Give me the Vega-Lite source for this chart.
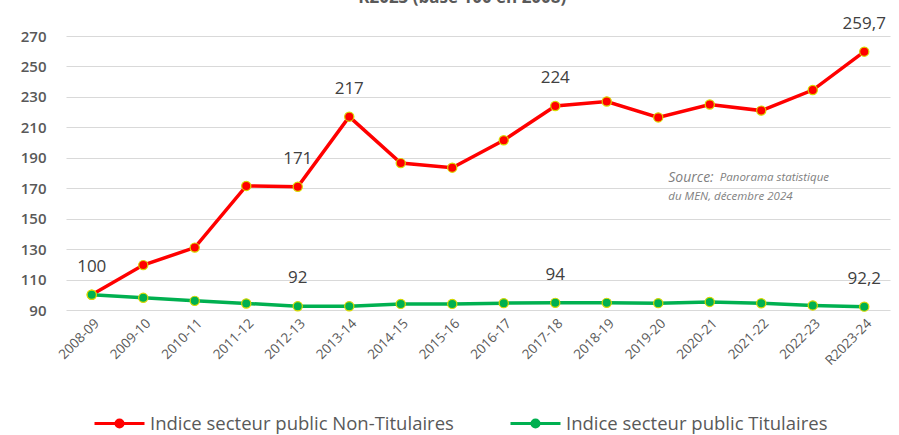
{
  "$schema": "https://vega.github.io/schema/vega-lite/v6.json",
  "width": 824,
  "height": 274,
  "autosize": "none",
  "padding": {"left": 66, "top": 36, "right": 9, "bottom": 125},
  "background": "white",
  "config": {"view": {"stroke": null}, "font": "Open Sans"},
  "datasets": {
    "series": [
      {"annee": "2008-09", "serie": "Indice secteur public Non-Titulaires", "indice": 100, "label": "100"},
      {"annee": "2009-10", "serie": "Indice secteur public Non-Titulaires", "indice": 119.5},
      {"annee": "2010-11", "serie": "Indice secteur public Non-Titulaires", "indice": 131},
      {"annee": "2011-12", "serie": "Indice secteur public Non-Titulaires", "indice": 171.5},
      {"annee": "2012-13", "serie": "Indice secteur public Non-Titulaires", "indice": 171, "label": "171"},
      {"annee": "2013-14", "serie": "Indice secteur public Non-Titulaires", "indice": 217, "label": "217"},
      {"annee": "2014-15", "serie": "Indice secteur public Non-Titulaires", "indice": 186.5},
      {"annee": "2015-16", "serie": "Indice secteur public Non-Titulaires", "indice": 183.5},
      {"annee": "2016-17", "serie": "Indice secteur public Non-Titulaires", "indice": 201.5},
      {"annee": "2017-18", "serie": "Indice secteur public Non-Titulaires", "indice": 224, "label": "224"},
      {"annee": "2018-19", "serie": "Indice secteur public Non-Titulaires", "indice": 227},
      {"annee": "2019-20", "serie": "Indice secteur public Non-Titulaires", "indice": 216.5},
      {"annee": "2020-21", "serie": "Indice secteur public Non-Titulaires", "indice": 225},
      {"annee": "2021-22", "serie": "Indice secteur public Non-Titulaires", "indice": 221},
      {"annee": "2022-23", "serie": "Indice secteur public Non-Titulaires", "indice": 234.5},
      {"annee": "R2023-24", "serie": "Indice secteur public Non-Titulaires", "indice": 259.7, "label": "259,7"},
      {"annee": "2008-09", "serie": "Indice secteur public Titulaires", "indice": 100},
      {"annee": "2009-10", "serie": "Indice secteur public Titulaires", "indice": 98},
      {"annee": "2010-11", "serie": "Indice secteur public Titulaires", "indice": 96},
      {"annee": "2011-12", "serie": "Indice secteur public Titulaires", "indice": 94.3},
      {"annee": "2012-13", "serie": "Indice secteur public Titulaires", "indice": 92.5, "label": "92"},
      {"annee": "2013-14", "serie": "Indice secteur public Titulaires", "indice": 92.5},
      {"annee": "2014-15", "serie": "Indice secteur public Titulaires", "indice": 94},
      {"annee": "2015-16", "serie": "Indice secteur public Titulaires", "indice": 94},
      {"annee": "2016-17", "serie": "Indice secteur public Titulaires", "indice": 94.5},
      {"annee": "2017-18", "serie": "Indice secteur public Titulaires", "indice": 94.7, "label": "94"},
      {"annee": "2018-19", "serie": "Indice secteur public Titulaires", "indice": 94.7},
      {"annee": "2019-20", "serie": "Indice secteur public Titulaires", "indice": 94.5},
      {"annee": "2020-21", "serie": "Indice secteur public Titulaires", "indice": 95.3},
      {"annee": "2021-22", "serie": "Indice secteur public Titulaires", "indice": 94.4},
      {"annee": "2022-23", "serie": "Indice secteur public Titulaires", "indice": 93},
      {"annee": "R2023-24", "serie": "Indice secteur public Titulaires", "indice": 92.2, "label": "92,2"}
    ],
    "notes": [
      {"annee": "2019-20", "indice": 177, "texte": "Source:", "type": "a"},
      {"annee": "2020-21", "indice": 177, "texte": "Panorama statistique", "type": "b"},
      {"annee": "2019-20", "indice": 164, "texte": "du MEN, décembre 2024", "type": "c"},
      {"annee": "2015-16", "indice": 295, "texte": "R2023 (base 100 en 2008)", "type": "t"}
    ]
  },
  "encoding": {
    "x": {
      "field": "annee", "type": "ordinal", "sort": null,
      "scale": {"type": "point", "padding": 0.5},
      "axis": {"title": null, "labelAngle": -45, "labelFontSize": 13.5, "labelColor": "#595959", "domain": false, "ticks": false, "grid": false, "labelPadding": 6}
    },
    "y": {
      "field": "indice", "type": "quantitative",
      "scale": {"domain": [90, 270], "nice": false, "zero": false},
      "axis": {"title": null, "values": [90, 110, 130, 150, 170, 190, 210, 230, 250, 270], "labelFontSize": 15, "labelFontWeight": 600, "labelColor": "#595959", "domain": false, "ticks": false, "labelPadding": 20, "gridColor": "#d9d9d9", "gridWidth": 1}
    }
  },
  "layer": [
    {
      "data": {"name": "series"},
      "mark": {"type": "line", "strokeWidth": 3.5},
      "encoding": {
        "color": {
          "field": "serie", "type": "nominal",
          "scale": {"domain": ["Indice secteur public Non-Titulaires", "Indice secteur public Titulaires"], "range": ["#ff0000", "#00b050"]},
          "legend": {
            "title": null, "orient": "none", "legendX": 27, "legendY": 361, "direction": "horizontal",
            "symbolType": "M-1,0H1M-0.14,0a0.14,0.14 0 1,0 0.28,0a0.14,0.14 0 1,0 -0.28,0",
            "symbolSize": 2500, "symbolStrokeWidth": 3,
            "labelFontSize": 18.5, "labelColor": "#595959", "labelOffset": 4, "labelLimit": 500, "columnPadding": 50,
            "encode": {"symbols": {"update": {"fill": {"scale": "color", "field": "value"}}}}
          }
        }
      }
    },
    {
      "data": {"name": "series"},
      "mark": {"type": "point", "filled": true, "size": 85, "stroke": "#d8d800", "strokeWidth": 1.2, "opacity": 1},
      "encoding": {
        "fill": {"field": "serie", "type": "nominal", "scale": {"domain": ["Indice secteur public Non-Titulaires", "Indice secteur public Titulaires"], "range": ["#ff0000", "#00b050"]}, "legend": null}
      }
    },
    {
      "data": {"name": "series"},
      "transform": [{"filter": "isValid(datum.label)"}],
      "mark": {"type": "text", "dy": -28, "fontSize": 17, "color": "#404040"},
      "encoding": {"text": {"field": "label"}}
    },
    {
      "data": {"name": "notes"},
      "transform": [{"filter": "datum.type === 'a'"}],
      "mark": {"type": "text", "align": "left", "dx": 10, "fontSize": 14, "fontStyle": "italic", "color": "#7f7f7f"},
      "encoding": {"text": {"field": "texte"}}
    },
    {
      "data": {"name": "notes"},
      "transform": [{"filter": "datum.type === 'b' || datum.type === 'c'"}],
      "mark": {"type": "text", "align": "left", "fontSize": 11.5, "fontStyle": "italic", "color": "#7f7f7f"},
      "encoding": {
        "text": {"field": "texte"},
        "xOffset": {"condition": {"test": "datum.type === 'b'", "value": 24}, "value": 10}
      }
    },
    {
      "data": {"name": "notes"},
      "transform": [{"filter": "datum.type === 't'"}],
      "mark": {"type": "text", "dx": 10, "fontSize": 17, "fontWeight": "bold", "color": "#595959"},
      "encoding": {"text": {"field": "texte"}}
    }
  ]
}
